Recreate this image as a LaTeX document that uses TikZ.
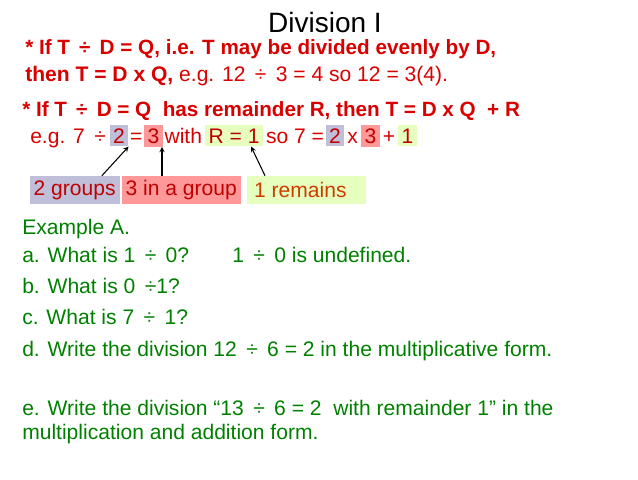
\documentclass[tikz,border=0pt]{standalone}
\usepackage{fontspec}
\setmainfont{Liberation Sans}
\begin{document}
\begin{tikzpicture}[x=0.75pt,y=-0.75pt,
  every node/.style={inner sep=0pt,font=\fontsize{15.8}{18}\selectfont},
  rtxt/.style={text=red!85!black},
  gtxt/.style={text=green!50!black},
  bbox/.style={fill=blue!25!gray!40,inner sep=2.5pt,text=red!75!black},
  pbox/.style={fill=red!40,inner sep=2.5pt,text=red!75!black},
  gbox/.style={fill=green!20!lime!25,inner sep=2.5pt,text=red!75!black},
  lbl/.style={minimum height=21pt,inner xsep=2pt,anchor=west},
  arr/.style={->,thick,>=stealth}]
\useasboundingbox (0,0) rectangle (638,479);
\node[font=\fontsize{21}{24}\selectfont] (title) at (325,22) {Division I};
\node[rtxt,anchor=base west,font=\bfseries\fontsize{15.5}{18}\selectfont] (l1) at (25,54) {* If T \,÷\, D = Q, i.e. T may be divided evenly by D,};
\node[rtxt,anchor=base west] (l2) at (25,81) {\textbf{then T = D x Q,} e.g. 12 \,÷\, 3 = 4 so 12 = 3(4).};
\node[rtxt,anchor=base west,font=\bfseries\fontsize{15.5}{18}\selectfont] (l3) at (22,116) {* If T \,÷\, D = Q \ has remainder R, then T = D x Q \ + R};
\node[rtxt,anchor=base west] (e1) at (30,143) {e.g. 7 \,÷\, };
\node[bbox,anchor=base west] (b2) at (e1.base east) {2};
\node[rtxt,anchor=base west] (e2) at ([xshift=1pt]b2.base east) {=};
\node[pbox,anchor=base west] (b3) at ([xshift=1pt]e2.base east) {3};
\node[rtxt,anchor=base west] (e3) at ([xshift=1pt]b3.base east) {with};
\node[gbox,anchor=base west] (bR) at ([xshift=2pt]e3.base east) {R = 1};
\node[rtxt,anchor=base west] (e4) at ([xshift=2pt]bR.base east) {so 7 =};
\node[bbox,anchor=base west] (c2) at ([xshift=1pt]e4.base east) {2};
\node[rtxt,anchor=base west] (e5) at ([xshift=2pt]c2.base east) {x};
\node[pbox,anchor=base west] (c3) at ([xshift=2pt]e5.base east) {3};
\node[rtxt,anchor=base west] (e6) at ([xshift=2pt]c3.base east) {+};
\node[gbox,anchor=base west] (c1) at ([xshift=2pt]e6.base east) {\makebox[9pt][l]{1}};
\node[lbl,bbox] (g2) at (30,190) {\makebox[62pt][l]{2 groups}};
\node[lbl,pbox] (g3) at (122,190) {\makebox[84pt][l]{3 in a group}};
\node[lbl,gbox,text=orange!60!red!80!black] (g1) at (247,190) {\makebox[84pt][l]{\,1 remains}};
\draw[arr] (g2.north east) ++(-18,0) coordinate (a1) -- (b2.south east);
\draw[arr] (g3.north west) ++(40,0) coordinate (a2) -- (a2 |- b3.south);
\draw[arr] (g1.north west) ++(18,0) coordinate (a3) -- ([xshift=-9pt]bR.south east);
\node[gtxt,anchor=base west] (ex) at (22,234) {Example A.};
\node[gtxt,anchor=base west] (qa) at (22,262) {a. What is 1 \,÷\, 0?};
\node[gtxt,anchor=base west] (qa2) at (232,262) {1 \,÷\, 0 is undefined.};
\node[gtxt,anchor=base west] (qb) at (22,293) {b. What is 0 \,÷1?};
\node[gtxt,anchor=base west] (qc) at (22,324) {c. What is 7 \,÷\, 1?};
\node[gtxt,anchor=base west] (qd) at (22,356) {d. Write the division 12 \,÷\, 6 = 2 in the multiplicative form.};
\node[gtxt,anchor=base west] (qe) at (22,415) {e. Write the division “13 \,÷\, 6 = 2 \ with remainder 1” in the};
\node[gtxt,anchor=base west] (qe2) at (22,439) {multiplication and addition form.};
\end{tikzpicture}
\end{document}
